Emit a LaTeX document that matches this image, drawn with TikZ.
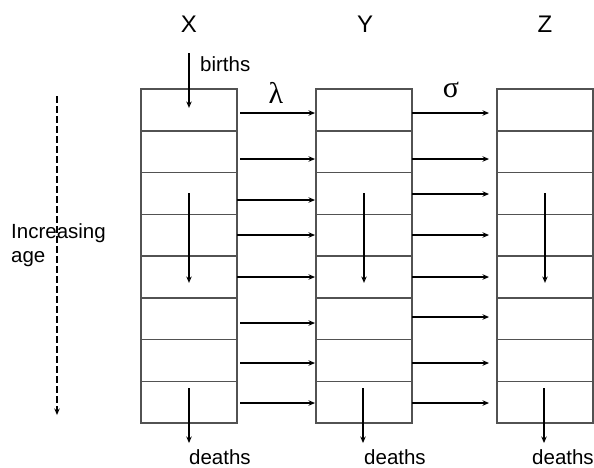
\documentclass[tikz,border=0pt]{standalone}
\usepackage{fontspec}
\setmainfont{Liberation Sans}
\newfontfamily\grk{Liberation Serif}
\usetikzlibrary{arrows.meta}
\begin{document}
\begin{tikzpicture}[x=1pt,y=-1pt,
  cell/.style={draw=black!68,line width=1.5pt,rectangle,minimum width=96pt,
               minimum height=41.75pt,inner sep=0pt,outer sep=0pt},
  arr/.style={line width=1.4pt,-{Stealth[open,length=6.5pt,width=5.5pt,inset=2.2pt,line width=0.9pt]}},
  lbl/.style={font=\fontsize{20.5}{24}\selectfont,inner sep=0pt},
  head/.style={font=\fontsize{24}{28}\selectfont,inner sep=0pt},
  greek/.style={font=\fontsize{30}{34}\selectfont\grk,inner sep=0pt}]
\useasboundingbox (0,0) rectangle (594,467);

% three columns of eight age classes
\foreach \c/\x in {X/189,Y/364,Z/545}{
  \foreach \r in {1,...,8}{
    \node[cell] (\c\r) at (\x,{89+41.75*(\r-0.5)}) {};
  }
}

% column headings
\node[head,anchor=base] (hX) at (189,32) {X};
\node[head,anchor=base] (hY) at (365,32) {Y};
\node[head,anchor=base] (hZ) at (545,32) {Z};

% transfer rates
\node[greek,anchor=base] (lam) at (276,103) {λ};
\node[greek,anchor=base] (sig) at (451,97) {σ};

% births into the youngest class
\coordinate (bTop) at (189,53);
\draw[arr] (bTop) -- ([yshift=2pt]X1.center);
\node[lbl,anchor=base west] (births) at (200,71) {births};

% ageing within each column
\foreach \c in {X,Y,Z}{
  \draw[arr] (\c3.center) -- ([yshift=-6pt]\c5.center);
}

% deaths out of the oldest class
\coordinate (dX) at (189,443);
\coordinate (dY) at (363,443);
\coordinate (dZ) at (544,443);
\draw[arr] ([yshift=14pt]X8.center) -- (dX);
\draw[arr] ([yshift=14pt,xshift=-1pt]Y8.center) -- (dY);
\draw[arr] ([yshift=14pt,xshift=-1pt]Z8.center) -- (dZ);
\node[lbl,anchor=base west] (deathsX) at (189,464) {deaths};
\node[lbl,anchor=base west] (deathsY) at (364,464) {deaths};
\node[lbl,anchor=base west] (deathsZ) at (532,464) {deaths};

% X -> Y transfers (lambda)
\foreach \r/\y/\s in {1/113/3,2/159/3,3/200/0,4/235/0,5/277/0,6/323/3,7/363/3,8/403/3}{
  \draw[arr] ([xshift=\s pt]X\r.east |- 0,\y) -- ([xshift=-1pt]Y\r.west |- 0,\y);
}
% Y -> Z transfers (sigma)
\foreach \r/\y in {1/113,2/159,3/194,4/235,5/277,6/317,7/363,8/403}{
  \draw[arr] (Y\r.east |- 0,\y) -- ([xshift=-8pt]Z\r.west |- 0,\y);
}

% age axis
\coordinate (aTop) at (57,96);
\coordinate (aBot) at (57,415);
\draw[arr,dashed,dash pattern=on 7pt off 3pt] (aTop) -- (aBot);
\node[lbl,anchor=base west] (inc) at (11,238) {Increasing};
\node[lbl,anchor=base west] (age) at (11,262) {age};
\end{tikzpicture}
\end{document}
